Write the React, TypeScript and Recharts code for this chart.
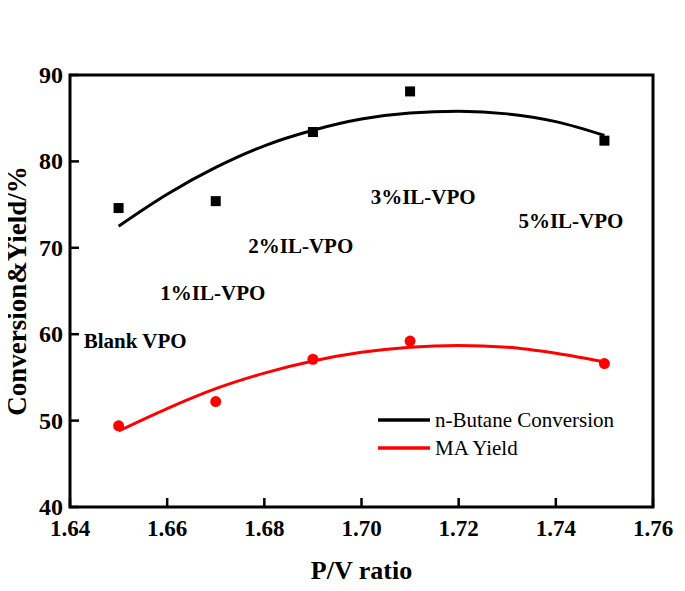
import {
  ComposedChart,
  Line,
  Scatter,
  XAxis,
  YAxis,
  Legend,
  ReferenceDot,
  ReferenceArea,
} from "recharts";

const FONT = "Liberation Serif, Times New Roman, serif";

// measured P/V ratios and results
const pvRatio = [1.65, 1.67, 1.69, 1.71, 1.75];
const conversion = [74.6, 75.4, 83.4, 88.1, 82.4];
const maYield = [49.4, 52.2, 57.1, 59.2, 56.6];

// fitted curves
const fitX = [1.65, 1.66, 1.67, 1.68, 1.69, 1.7, 1.71, 1.72, 1.73, 1.74, 1.75];
const conversionFit = [72.5, 76.2, 79.3, 81.8, 83.6, 84.9, 85.6, 85.8, 85.5, 84.6, 83.0];
const yieldFit = [48.8, 51.4, 53.7, 55.5, 56.9, 57.9, 58.5, 58.7, 58.5, 57.8, 56.8];

const X_MIN = 1.64;
const X_MAX = 1.76;
const Y_MIN = 40;
const Y_MAX = 90;
const xTicks = [1.64, 1.66, 1.68, 1.7, 1.72, 1.74, 1.76];
const yTicks = [40, 50, 60, 70, 80, 90];

const catalysts = ["Blank VPO", "1%IL-VPO", "2%IL-VPO", "3%IL-VPO", "5%IL-VPO"];
const catalystX = [1.6534, 1.6694, 1.6875, 1.7127, 1.7431];
const catalystY = [59.3, 64.8, 70.3, 75.9, 73.2];

const seriesNames = ["n-Butane Conversion", "MA Yield"];
const seriesColors = ["#000000", "#ff0000"];

const zip = (xs: number[], ys: number[]) => xs.map((x, i) => ({ x, y: ys[i] }));

const convPts = zip(pvRatio, conversion);
const yieldPts = zip(pvRatio, maYield);
const convCurve = zip(fitX, conversionFit);
const yieldCurve = zip(fitX, yieldFit);

// ticks point into the plot, so the tick renderers draw the marks too
const renderXTick = (props: any) => {
  const { x, y, payload, index } = props;
  return (
    <g key={`xt-${index}`}>
      <rect x={x - 1.25} y={y - 9} width={2.5} height={9} fill="#000" />
      <text x={x} y={y + 29} textAnchor="middle" fontFamily={FONT} fontWeight={700} fontSize={23} fill="#000">
        {Number(payload.value).toFixed(2)}
      </text>
    </g>
  );
};

const renderYTick = (props: any) => {
  const { x, y, payload, index } = props;
  return (
    <g key={`yt-${index}`}>
      <rect x={x} y={y - 1.25} width={9} height={2.5} fill="#000" />
      <text x={x - 7} y={y + 8} textAnchor="end" fontFamily={FONT} fontWeight={700} fontSize={24} fill="#000">
        {payload.value}
      </text>
    </g>
  );
};

const SquareDot = (p: any) => <rect x={p.cx - 5} y={p.cy - 5} width={10} height={10} fill="#000" />;
const RoundDot = (p: any) => <circle cx={p.cx} cy={p.cy} r={5.5} fill="#ff0000" />;

const LegendBox = () => (
  <div style={{ fontFamily: FONT, fontSize: 21, color: "#000" }}>
    {seriesNames.map((name, i) => (
      <div key={name} style={{ display: "flex", alignItems: "center", height: 28 }}>
        <svg width={52} height={4} style={{ marginRight: 5 }}>
          <line x1={0} y1={2} x2={52} y2={2} stroke={seriesColors[i]} strokeWidth={3.5} />
        </svg>
        <span>{name}</span>
      </div>
    ))}
  </div>
);

export default function App() {
  return (
    <div style={{ position: "relative", width: 677, height: 583, background: "#fff" }}>
      <ComposedChart width={677} height={583} margin={{ top: 67, right: 32, bottom: 0, left: 0 }}>
        <XAxis
          dataKey="x"
          type="number"
          domain={[X_MIN, X_MAX]}
          ticks={xTicks}
          allowDataOverflow
          height={84}
          tickSize={0}
          tickMargin={0}
          tickLine={false}
          tick={renderXTick}
          axisLine={false}
          label={{ value: "P/V ratio", position: "insideBottom", offset: 12, fontFamily: FONT, fontWeight: "bold", fontSize: 26, fill: "#000" }}
        />
        <YAxis
          type="number"
          domain={[Y_MIN, Y_MAX]}
          ticks={yTicks}
          allowDataOverflow
          width={62}
          tickSize={0}
          tickMargin={0}
          tickLine={false}
          tick={renderYTick}
          axisLine={false}
          label={{ value: "Conversion&Yield/%", angle: -90, position: "insideLeft", offset: 8, fontFamily: FONT, fontWeight: "bold", fontSize: 27, fill: "#000", style: { textAnchor: "middle" } }}
        />
        <ReferenceArea x1={X_MIN} x2={X_MAX} y1={Y_MIN} y2={Y_MAX} fill="none" stroke="#000" strokeWidth={3} ifOverflow="visible" />
        <Line data={convCurve} dataKey="y" type="monotone" stroke="#000" strokeWidth={3} dot={false} isAnimationActive={false} legendType="none" />
        <Line data={yieldCurve} dataKey="y" type="monotone" stroke="#ff0000" strokeWidth={3} dot={false} isAnimationActive={false} legendType="none" />
        <Scatter data={convPts} dataKey="y" shape={<SquareDot />} isAnimationActive={false} />
        <Scatter data={yieldPts} dataKey="y" shape={<RoundDot />} isAnimationActive={false} />
        {catalysts.map((name, i) => (
          <ReferenceDot
            key={name}
            x={catalystX[i]}
            y={catalystY[i]}
            r={0}
            fill="none"
            stroke="none"
            label={{ value: name, position: "center", fontFamily: FONT, fontWeight: "bold", fontSize: 21, fill: "#000" }}
          />
        ))}
        <Legend
          layout="vertical"
          align="center"
          verticalAlign="middle"
          content={<LegendBox />}
          wrapperStyle={{ left: 370, top: 398, width: "auto" }}
        />
      </ComposedChart>
    </div>
  );
}
